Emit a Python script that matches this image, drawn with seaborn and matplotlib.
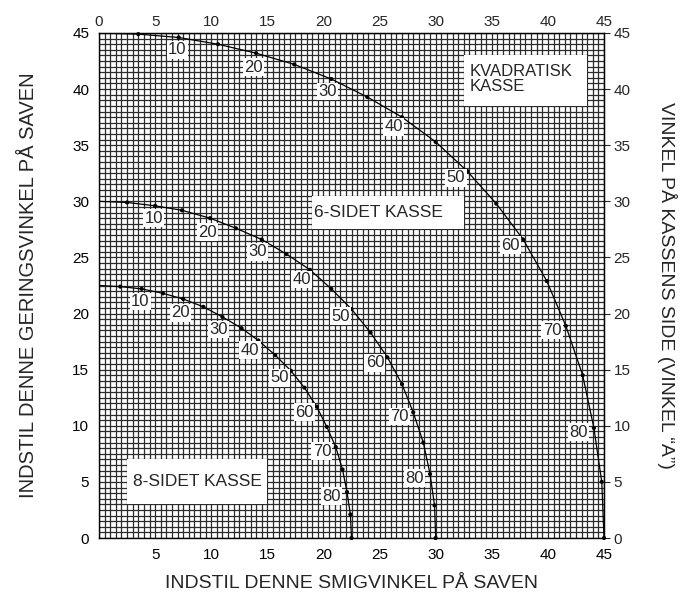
import matplotlib
matplotlib.use("Agg")
import matplotlib.pyplot as plt
from matplotlib.patches import Rectangle
import numpy as np
import pandas as pd
import seaborn as sns

# angle of the box side (vinkel "A"), one dot every 5 degrees
side_angle = [0, 5, 10, 15, 20, 25, 30, 35, 40, 45, 50, 55, 60, 65, 70, 75, 80, 85, 90]

# kvadratisk kasse (4 sider)
square_bevel = [0, 3.5, 7.1, 10.6, 14.0, 17.4, 20.7, 23.9, 27.0, 30.0,
                32.8, 35.4, 37.8, 39.9, 41.6, 43.1, 44.1, 44.8, 45.0]
square_miter = [45.0, 44.9, 44.6, 44.0, 43.2, 42.2, 40.9, 39.3, 37.5, 35.3,
                32.7, 29.8, 26.6, 22.9, 18.9, 14.5, 9.8, 5.0, 0]
# 6-sidet kasse
hex_bevel = [0, 2.5, 5.0, 7.4, 9.9, 12.2, 14.5, 16.7, 18.8, 20.7,
             22.5, 24.2, 25.7, 27.0, 28.0, 28.9, 29.5, 29.9, 30.0]
hex_miter = [30.0, 29.9, 29.6, 29.2, 28.5, 27.6, 26.6, 25.3, 23.9, 22.2,
             20.4, 18.3, 16.1, 13.7, 11.2, 8.5, 5.7, 2.9, 0]
# 8-sidet kasse
oct_bevel = [0, 1.9, 3.8, 5.7, 7.5, 9.3, 11.0, 12.7, 14.2, 15.7,
             17.1, 18.3, 19.4, 20.3, 21.1, 21.7, 22.1, 22.4, 22.5]
oct_miter = [22.5, 22.4, 22.2, 21.8, 21.3, 20.6, 19.7, 18.7, 17.6, 16.3,
             14.9, 13.4, 11.7, 9.9, 8.1, 6.1, 4.1, 2.1, 0]

labelled_angles = [10, 20, 30, 40, 50, 60, 70, 80]
# offset of each angle label from its dot (points)
label_dx = [-1, -2, -3, -6, -8, -9, -10, -11]
label_dy = [-9, -10, -9, -7, -5, -4, -3, -3]

ticks = list(range(0, 46, 5))

sns.set_style("white")
plt.rcParams["font.family"] = ["Liberation Sans", "DejaVu Sans"]

fig = plt.figure(figsize=(7, 5.93), dpi=100)
ax = fig.add_axes([99 / 700, 1 - 538 / 593, 505 / 700, 505 / 593])

# fine 0.5 degree grid
ax.set_xticks(np.arange(0, 45.01, 0.5), minor=True)
ax.set_yticks(np.arange(0, 45.01, 0.5), minor=True)
ax.set_xticks(ticks)
ax.set_yticks(ticks)
ax.grid(which="both", color="#2b2b2b", linewidth=0.9)
ax.set_axisbelow(True)
ax.set_xlim(0, 45)
ax.set_ylim(0, 45)

# white boxes behind the box names
ax.add_patch(Rectangle((32.5, 38.5), 11.0, 4.5, fc="white", ec="none", zorder=1.5))
ax.add_patch(Rectangle((19.0, 27.5), 13.5, 3.0, fc="white", ec="none", zorder=1.5))
ax.add_patch(Rectangle((2.5, 3.0), 12.5, 4.0, fc="white", ec="none", zorder=1.5))
ax.text(33.0, 40.9, "KVADRATISK\nKASSE", fontsize=12, ha="left", va="center",
        linespacing=1.05, zorder=2)
ax.text(19.2, 29.0, "6-SIDET KASSE", fontsize=12.5, ha="left", va="center", zorder=2)
ax.text(3.0, 5.0, "8-SIDET KASSE", fontsize=12.5, ha="left", va="center", zorder=2)

curves = [(square_bevel, square_miter), (hex_bevel, hex_miter), (oct_bevel, oct_miter)]
for bevel, miter in curves:
    df = pd.DataFrame({"bevel": bevel, "miter": miter, "A": side_angle})
    sns.lineplot(data=df, x="bevel", y="miter", sort=False, estimator=None,
                 color="black", linewidth=0.9, ax=ax, zorder=3)
    dots = df[df["A"] > 0]
    sns.scatterplot(data=dots, x="bevel", y="miter", color="black", s=9,
                    edgecolor="none", ax=ax, zorder=4, clip_on=False)
    for i, a in enumerate(labelled_angles):
        row = df[df["A"] == a].iloc[0]
        ax.annotate(str(a), (row["bevel"], row["miter"]),
                    xytext=(label_dx[i], label_dy[i]), textcoords="offset points",
                    ha="center", va="center", fontsize=12, zorder=5,
                    bbox=dict(boxstyle="square,pad=0.08", fc="white", ec="none"))

ax.set_xlabel("")
ax.set_ylabel("")
for s in ax.spines.values():
    s.set_color("black")
    s.set_linewidth(1.0)

ax.tick_params(which="minor", length=0)
ax.tick_params(which="major", direction="out", length=4, width=0.8,
               labelsize=11, pad=3, colors="black")
ax.set_xticklabels([""] + [str(t) for t in ticks[1:]])
ax.set_yticklabels([str(t) for t in ticks])

top = ax.secondary_xaxis("top")
top.set_xticks(ticks)
top.set_xticklabels([str(t) for t in ticks])
top.tick_params(direction="out", length=0, labelsize=11, pad=3)
right = ax.secondary_yaxis("right")
right.set_yticks(ticks)
right.set_yticklabels([str(t) for t in ticks])
right.tick_params(direction="out", length=4, width=0.8, labelsize=11, pad=3)

ax.text(0.5, -0.09, "INDSTIL DENNE SMIGVINKEL PÅ SAVEN", transform=ax.transAxes,
        ha="center", va="center", fontsize=14)
ax.text(-0.14, 0.5, "INDSTIL DENNE GERINGSVINKEL PÅ SAVEN", transform=ax.transAxes,
        ha="center", va="center", rotation=90, fontsize=14.5)
ax.text(1.125, 0.5, "VINKEL PÅ KASSENS SIDE (VINKEL “A”)", transform=ax.transAxes,
        ha="center", va="center", rotation=-90, fontsize=14)

fig.savefig("out.png", dpi=100)
